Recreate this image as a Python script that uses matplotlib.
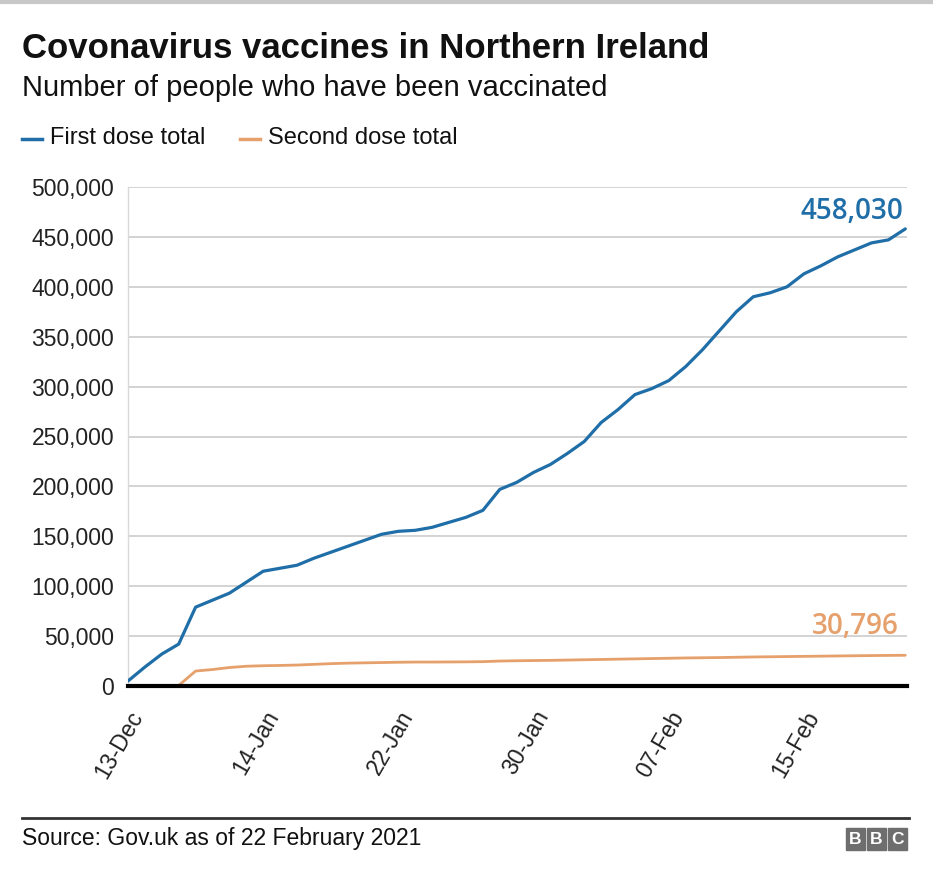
import matplotlib
matplotlib.use("Agg")
import matplotlib.pyplot as plt
from matplotlib.patches import Rectangle
from matplotlib.lines import Line2D
from matplotlib.ticker import FuncFormatter, MultipleLocator

# ---- data ----
dates = ["13-Dec", "20-Dec", "27-Dec", "03-Jan"] + \
        [f"{d:02d}-Jan" for d in range(10, 32)] + \
        [f"{d:02d}-Feb" for d in range(1, 22)]

first_dose = [5000, 19000, 32000, 42000, 79000, 86000, 93000, 104000, 115000,
              118000, 121000, 128000, 134000, 140000, 146000, 152000, 155000,
              156000, 159000, 164000, 169000, 176000, 197000, 204000, 214000,
              222000, 233000, 245000, 264000, 277000, 292000, 298000, 306000,
              320000, 337000, 356000, 375000, 390000, 394000, 400000, 413000,
              421000, 430000, 437000, 444000, 447000, 458030]

second_dose = [None, None, None, 500, 15000, 16500, 18500, 19800, 20300, 20600,
               21000, 21700, 22400, 22900, 23200, 23500, 23800, 24000, 24000,
               24100, 24200, 24400, 25000, 25300, 25500, 25700, 26000, 26300,
               26600, 26900, 27200, 27500, 27800, 28100, 28300, 28500, 28800,
               29100, 29300, 29500, 29700, 29900, 30100, 30300, 30500, 30650,
               30796]

series_names = ["First dose total", "Second dose total"]
shown_ticks = ["13-Dec", "14-Jan", "22-Jan", "30-Jan", "07-Feb", "15-Feb"]

title = "Covonavirus vaccines in Northern Ireland"
subtitle = "Number of people who have been vaccinated"
source = "Source: Gov.uk as of 22 February 2021"

BLUE = "#1f6ea8"
ORANGE = "#e6a06c"
FONT = "Liberation Sans"

fig = plt.figure(figsize=(9.33, 8.84), dpi=100)
W, H = 933, 884

def fx(px):
    return px / W

def fy(py):
    return 1 - py / H

ax = fig.add_axes([fx(128), fy(686), fx(907) - fx(128), fy(187) - fy(686)])

x = list(range(len(dates)))
xs2 = [i for i, v in zip(x, second_dose) if v is not None]
ys2 = [v for v in second_dose if v is not None]

ax.plot(x, first_dose, color=BLUE, lw=2.3, solid_capstyle="round", zorder=3)
ax.plot(xs2, ys2, color=ORANGE, lw=2.0, solid_capstyle="round", zorder=3)

ax.set_xlim(0, len(dates) - 1 + 0.1)
ax.set_ylim(0, 500000)
ax.yaxis.set_major_locator(MultipleLocator(50000))
ax.yaxis.set_major_formatter(FuncFormatter(lambda v, p: f"{int(v):,}"))
ax.grid(axis="y", color="#cccccc", lw=1.2)
ax.set_axisbelow(True)

for s in ["top", "right"]:
    ax.spines[s].set_visible(False)
ax.spines["left"].set_color("#d9d9d9")
ax.spines["left"].set_linewidth(1.0)
ax.spines["bottom"].set_color("black")
ax.spines["bottom"].set_linewidth(3)
ax.spines["bottom"].set_zorder(4)

tick_idx = [dates.index(d) for d in shown_ticks]
ax.set_xticks(tick_idx)
ax.set_xticklabels(shown_ticks, rotation=60, ha="right", va="top",
                   rotation_mode="anchor", fontsize=16.5, family=FONT,
                   color="#222222")
ax.tick_params(axis="x", length=0, pad=15)
ax.tick_params(axis="y", length=0, pad=10, labelsize=16.5, labelcolor="#222222")
for lab in ax.get_yticklabels():
    lab.set_family(FONT)

# end labels
ax.text(len(dates) - 1 - 0.1, first_dose[-1] + 10000, f"{first_dose[-1]:,}",
        ha="right", va="baseline", fontsize=20, color=BLUE,
        family="Open Sans", fontweight="semibold")
ax.text(len(dates) - 1 - 0.4, second_dose[-1] + 21000, f"{second_dose[-1]:,}",
        ha="right", va="baseline", fontsize=20, color=ORANGE,
        family="Open Sans", fontweight="semibold")

# titles
fig.text(fx(22), fy(49), title, fontsize=25, fontweight="bold", family=FONT,
         va="center", ha="left", color="#111111")
fig.text(fx(22), fy(88), subtitle, fontsize=21, family=FONT,
         va="center", ha="left", color="#111111")

# legend
fig.add_artist(Line2D([fx(22), fx(42)], [fy(139), fy(139)], color=BLUE, lw=2.5))
fig.text(fx(50), fy(138), series_names[0], fontsize=17, family=FONT,
         va="center", ha="left", color="#111111")
fig.add_artist(Line2D([fx(240), fx(260)], [fy(139), fy(139)], color=ORANGE, lw=2.5))
fig.text(fx(268), fy(138), series_names[1], fontsize=17, family=FONT,
         va="center", ha="left", color="#111111")

# footer
fig.add_artist(Line2D([fx(22), fx(909)], [fy(818), fy(818)], color="#333333", lw=2))
fig.text(fx(22), fy(838), source, fontsize=16.5, family=FONT,
         va="center", ha="left", color="#111111")

for i, ch in enumerate("BBC"):
    x0 = 846 + i * 21
    fig.add_artist(Rectangle((fx(x0), fy(850)), fx(19), fy(828) - fy(850),
                             color="#6e6e6e", transform=fig.transFigure))
    fig.text(fx(x0 + 9.5), fy(839.5), ch, fontsize=12.5, fontweight="bold",
             family=FONT, color="white", ha="center", va="center")

# top border line
fig.add_artist(Line2D([0, 1], [fy(1.5), fy(1.5)], color="#c8c8c8", lw=3))

fig.savefig("out.png", dpi=100, facecolor="white")
